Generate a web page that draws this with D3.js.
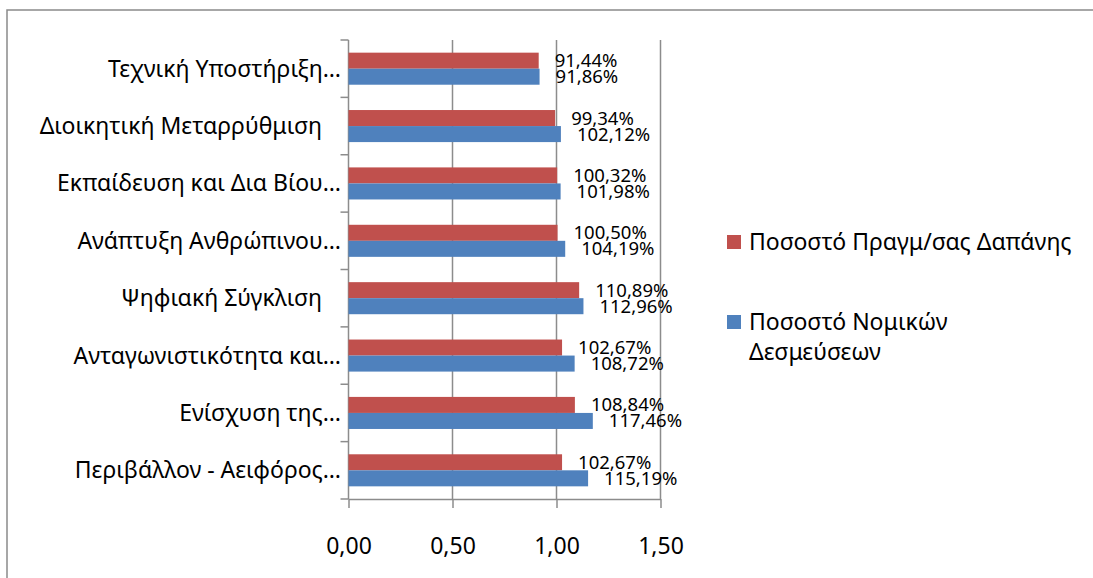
<!DOCTYPE html>
<html>
<head>
<meta charset="utf-8">
<script src="https://cdn.jsdelivr.net/npm/d3@7"></script>
<style>
  body { margin: 0; background: #fff; }
  text { font-family: "Noto Sans", sans-serif; fill: #000; }
</style>
</head>
<body>
<script>
var w = 1093;
var h = 578;

// categories, top to bottom
var categories = [
  "Τεχνική Υποστήριξη…",
  "Διοικητική Μεταρρύθμιση",
  "Εκπαίδευση και Δια Βίου…",
  "Ανάπτυξη Ανθρώπινου…",
  "Ψηφιακή Σύγκλιση",
  "Ανταγωνιστικότητα και…",
  "Ενίσχυση της…",
  "Περιβάλλον - Αειφόρος…"
];

var seriesNames = ["Ποσοστό Πραγμ/σας Δαπάνης", "Ποσοστό Νομικών Δεσμεύσεων"];
var seriesColors = ["#C0504D", "#4F81BD"];

// Ποσοστό Πραγμ/σας Δαπάνης
var spending = [0.9144, 0.9934, 1.0032, 1.0050, 1.1089, 1.0267, 1.0884, 1.0267];
// Ποσοστό Νομικών Δεσμεύσεων
var commitments = [0.9186, 1.0212, 1.0198, 1.0419, 1.1296, 1.0872, 1.1746, 1.1519];

var xTicks = [0, 0.5, 1.0, 1.5];

var svg = d3.select("body").append("svg").attr("width", w).attr("height", h);

//outer frame of the chart, runs off the picture at right and bottom
svg.append("rect")
  .attr("x", 7).attr("y", 10)
  .attr("width", w + 20).attr("height", h + 20)
  .attr("fill", "none")
  .attr("stroke", "#8a8a8a")
  .attr("stroke-width", 1.5);

var gr = d3.formatLocale({decimal: ",", thousands: ".", grouping: [3], currency: ["", "€"]});
var fmtTick = gr.format(".2f");
var fmtPct = gr.format(".2%");

var x = d3.scaleLinear().domain([0, 1.5]).range([348.5, 660.5]);
var y0 = d3.scaleBand().domain(categories).range([40, 499]);
var y1 = d3.scaleBand().domain(seriesNames).range([0, y0.bandwidth()]).paddingOuter(0.79);

var g = svg.append("g");

//vertical gridlines
g.selectAll("line.grid")
  .data(xTicks.slice(1))
  .enter()
  .append("line")
  .attr("class", "grid")
  .attr("x1", d => x(d)).attr("x2", d => x(d))
  .attr("y1", 40).attr("y2", 499)
  .attr("stroke", "#8c8c8c")
  .attr("stroke-width", 1.5);

//x axis
var xAxis = g.append("g")
  .attr("transform", "translate(0,499)")
  .call(d3.axisBottom(x).tickValues(xTicks).tickFormat(fmtTick).tickSize(9).tickSizeOuter(0));
xAxis.select(".domain").attr("stroke", "#8c8c8c").attr("stroke-width", 1.5);
xAxis.selectAll(".tick line").attr("stroke", "#8c8c8c").attr("stroke-width", 1.5);
xAxis.selectAll(".tick text")
  .attr("y", 39)
  .attr("font-size", 23)
  .attr("font-family", null);

//y axis with ticks between categories
var yAxis = g.append("g").attr("transform", "translate(348.5,0)");
yAxis.append("line")
  .attr("x1", 0).attr("x2", 0).attr("y1", 40).attr("y2", 499)
  .attr("stroke", "#8c8c8c").attr("stroke-width", 1.5);
var bounds = categories.map(c => y0(c)).concat([499]);
yAxis.selectAll("line.ytick")
  .data(bounds)
  .enter()
  .append("line")
  .attr("class", "ytick")
  .attr("x1", -8).attr("x2", 0)
  .attr("y1", d => d).attr("y2", d => d)
  .attr("stroke", "#8c8c8c").attr("stroke-width", 1.5);

//category labels (the untruncated ones sit a bit further left, as in Excel)
g.selectAll("text.cat")
  .data(categories)
  .enter()
  .append("text")
  .attr("class", "cat")
  .attr("x", d => d.endsWith("…") ? 341 : 322)
  .attr("y", d => y0(d) + y0.bandwidth() / 2)
  .attr("dy", "0.35em")
  .attr("text-anchor", "end")
  .attr("font-size", 23)
  .text(d => d);

//bars, one group per category
var rows = categories.map((c, i) => ({cat: c, vals: [spending[i], commitments[i]]}));

var cat = g.selectAll("g.cat")
  .data(rows)
  .enter()
  .append("g")
  .attr("transform", d => "translate(0," + y0(d.cat) + ")");

cat.selectAll("rect")
  .data(d => d.vals.map((v, j) => ({name: seriesNames[j], v: v, j: j})))
  .enter()
  .append("rect")
  .attr("x", x(0))
  .attr("y", d => y1(d.name))
  .attr("width", d => x(d.v) - x(0))
  .attr("height", y1.bandwidth())
  .attr("fill", d => seriesColors[d.j]);

//data labels
cat.selectAll("text.val")
  .data(d => d.vals.map((v, j) => ({name: seriesNames[j], v: v})))
  .enter()
  .append("text")
  .attr("class", "val")
  .attr("x", d => x(d.v) + 16)
  .attr("y", d => y1(d.name) + y1.bandwidth() / 2)
  .attr("dy", "0.35em")
  .attr("font-size", 18.5)
  .text(d => fmtPct(d.v));

//legend
var legend = svg.append("g");
var legendY = [242, 322];
var legendLines = [["Ποσοστό Πραγμ/σας Δαπάνης"], ["Ποσοστό Νομικών", "Δεσμεύσεων"]];

legend.selectAll("rect")
  .data(seriesNames)
  .enter()
  .append("rect")
  .attr("x", 727)
  .attr("y", (d, i) => legendY[i] - 7)
  .attr("width", 14).attr("height", 14)
  .attr("fill", (d, i) => seriesColors[i]);

legend.selectAll("text")
  .data(legendLines)
  .enter()
  .append("text")
  .attr("x", 749)
  .attr("y", (d, i) => legendY[i])
  .attr("font-size", 23)
  .each(function (lines) {
    d3.select(this).selectAll("tspan")
      .data(lines)
      .enter()
      .append("tspan")
      .attr("x", 749)
      .attr("dy", (l, k) => k === 0 ? "0.35em" : "30px")
      .text(l => l);
  });
</script>
</body>
</html>
